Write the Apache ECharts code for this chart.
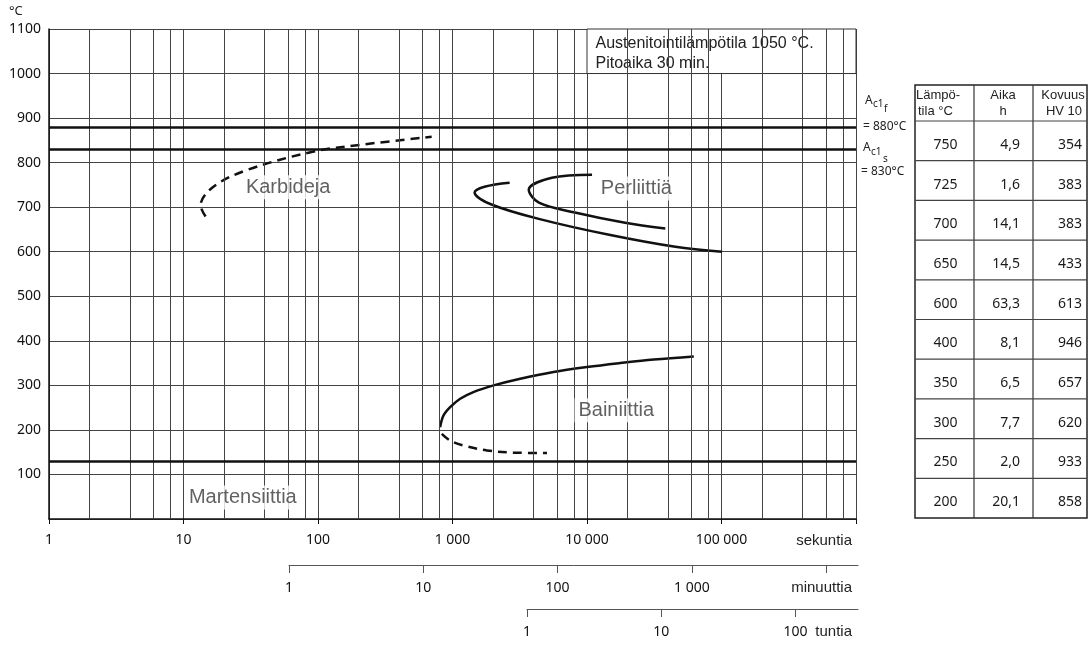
<!DOCTYPE html>
<html>
<head>
<meta charset="utf-8">
<script src="https://cdn.jsdelivr.net/npm/echarts@6/dist/echarts.min.js"></script>
<style>
  html, body { margin: 0; padding: 0; background: #fff; }
  #chart { width: 1088px; height: 645px; }
</style>
</head>
<body>
<div id="chart"></div>
<script>
// ---- data ----
const secondTicks = [1, 10, 100, 1000, 10000, 100000, 1000000];
const secondLabels = ['1', '10', '100', '1 000', '10 000', '100 000', ''];
const secondMinorGrid = [2, 4, 6, 8, 20, 40, 60, 80, 200, 400, 600, 800,
  2000, 4000, 6000, 8000, 20000, 40000, 60000, 80000,
  200000, 400000, 600000, 800000];
const minuteTicks = [1, 10, 100, 1000, 10000];
const minuteLabels = ['1', '10', '100', '1 000', ''];
const hourTicks = [1, 10, 100];
const hourLabels = ['1', '10', '100'];

const phaseLines = [880, 830, 130]; // Ac1f, Ac1s, Ms

// [time s, temperature °C]
const karbidejaCurve = [[14.6, 679], [13.4, 704], [16.7, 746], [30, 784], [93, 825], [220, 841], [700, 858]];
const perliittiOuter = [[2660, 755], [1730, 746], [1460, 733], [1950, 706], [4610, 672], [14600, 638], [45400, 611], [101000, 600]];
const perliittiInner = [[10900, 773], [5480, 766], [3690, 739], [4390, 710], [8130, 688], [19200, 665], [38200, 652]];
const bainiittiSolid = [[62200, 365], [31300, 358], [17700, 350], [10000, 341], [5640, 330], [3190, 315],
  [2020, 300], [1430, 285], [1140, 270], [960, 251], [856, 232], [809, 206]];
const bainiittiDashed = [[832, 191], [960, 176], [1205, 165], [1800, 154], [2840, 149], [5040, 148]];

const phaseNames = ['Karbideja', 'Perliittiä', 'Bainiittia', 'Martensiittia'];
const phaseNameAt = [[60, 745], [23300, 742], [16500, 244], [27.6, 48]];

const tableTemps = [750, 725, 700, 650, 600, 400, 350, 300, 250, 200];
const tableHours = ['4,9', '1,6', '14,1', '14,5', '63,3', '8,1', '6,5', '7,7', '2,0', '20,1'];
const tableHardness = [354, 383, 383, 433, 613, 946, 657, 620, 933, 858];

// ---- styles ----
const ink = '#111';
const gridColor = '#444';
const numFont = { fontFamily: 'Noto Sans', fontSize: 14, color: '#111' };
const sansFont = 'Liberation Sans, Arial, sans-serif';

let myChart = echarts.init(document.getElementById('chart'));

function curve(data, dashed) {
  return {
    type: 'line',
    xAxisIndex: 0, yAxisIndex: 0,
    data: data,
    smooth: 0.35,
    showSymbol: false,
    symbol: 'none',
    z: 4,
    silent: true,
    lineStyle: { color: ink, width: 2.5, type: dashed ? [9, 6] : 'solid' }
  };
}

// table graphics
const tbl = { left: 915, right: 1087, top: 85, head: 121, bottom: 518, c1: 974, c2: 1033 };
const rowH = (tbl.bottom - tbl.head) / tableTemps.length;
const tableGraphic = [];
tableGraphic.push({ type: 'rect', shape: { x: tbl.left, y: tbl.top, width: tbl.right - tbl.left, height: tbl.bottom - tbl.top }, style: { fill: 'none', stroke: '#222', lineWidth: 1.5 } });
[tbl.c1, tbl.c2].forEach(x => tableGraphic.push({ type: 'line', shape: { x1: x, y1: tbl.top, x2: x, y2: tbl.bottom }, style: { stroke: '#333', lineWidth: 1.2 } }));
for (let i = 0; i < tableTemps.length; i++) {
  const yLine = tbl.head + i * rowH;
  tableGraphic.push({ type: 'line', shape: { x1: tbl.left, y1: yLine, x2: tbl.right, y2: yLine }, style: { stroke: '#444', lineWidth: 1.2 } });
  const yc = yLine + rowH / 2 + 4;
  const f = '14px Noto Sans';
  tableGraphic.push({ type: 'text', x: (tbl.left + tbl.c1) / 2 + 1, y: yc, style: { text: String(tableTemps[i]), font: f, fill: '#1a1a1a', align: 'center', verticalAlign: 'middle' } });
  tableGraphic.push({ type: 'text', x: 1020, y: yc, style: { text: tableHours[i], font: f, fill: '#1a1a1a', align: 'right', verticalAlign: 'middle' } });
  tableGraphic.push({ type: 'text', x: 1082, y: yc, style: { text: String(tableHardness[i]), font: f, fill: '#1a1a1a', align: 'right', verticalAlign: 'middle' } });
}
const headFont = '13px ' + sansFont;
[['Lämpö-', 916, 95, 'left'], ['tila °C', 918, 111, 'left'],
 ['Aika', 1003, 95, 'center'], ['h', 1003, 111, 'center'],
 ['Kovuus', 1063, 95, 'center'], ['HV 10', 1064, 111, 'center']].forEach(h => {
  tableGraphic.push({ type: 'text', x: h[1], y: h[2], style: { text: h[0], font: headFont, fill: '#222', align: h[3], verticalAlign: 'middle' } });
});

function txt(text, x, y, font, align) {
  return { type: 'text', x: x, y: y, style: { text: text, font: font, fill: '#222', align: align || 'left', verticalAlign: 'middle' } };
}

let option = {
  animation: false,
  backgroundColor: '#fff',
  grid: [
    { left: 49, top: 29, width: 807, height: 490, outerBoundsMode: 'none' },
    { left: 289, top: 564, width: 569, height: 1, outerBoundsMode: 'none' },
    { left: 527, top: 608, width: 331, height: 1, outerBoundsMode: 'none' }
  ],
  xAxis: [
    {
      type: 'log', logBase: 10, min: 1, max: 1000000, gridIndex: 0, position: 'bottom',
      axisLine: { show: true, onZero: false, lineStyle: { color: ink, width: 1.5 } },
      axisTick: { show: true, length: 5, customValues: secondTicks, lineStyle: { color: ink } },
      axisLabel: {
        customValues: secondTicks.slice(0, 6), margin: 14, ...numFont,
        formatter: v => secondLabels[Math.round(Math.log10(v))]
      },
      splitLine: { show: true, lineStyle: { color: gridColor, width: 1 } }
    },
    {
      type: 'log', logBase: 10, min: 1, max: 17260, gridIndex: 1, position: 'bottom',
      axisLine: { show: true, onZero: false, lineStyle: { color: '#555', width: 1 } },
      axisTick: { show: true, length: 8, customValues: minuteTicks, lineStyle: { color: '#555' } },
      axisLabel: {
        customValues: minuteTicks.slice(0, 4), margin: 16, ...numFont,
        formatter: v => minuteLabels[Math.round(Math.log10(v))]
      },
      splitLine: { show: false }
    },
    {
      type: 'log', logBase: 10, min: 1, max: 291.6, gridIndex: 2, position: 'bottom',
      axisLine: { show: true, onZero: false, lineStyle: { color: '#555', width: 1 } },
      axisTick: { show: true, length: 8, customValues: hourTicks, lineStyle: { color: '#555' } },
      axisLabel: {
        customValues: hourTicks, margin: 16, ...numFont,
        formatter: v => hourLabels[Math.round(Math.log10(v))]
      },
      splitLine: { show: false }
    }
  ],
  yAxis: [
    {
      type: 'value', min: 0, max: 1100, interval: 100, gridIndex: 0,
      axisLine: { show: true, lineStyle: { color: ink, width: 1.5 } },
      axisTick: { show: false },
      axisLabel: { margin: 8, ...numFont, formatter: v => (v === 0 ? '' : String(v)) },
      splitLine: { show: true, lineStyle: { color: gridColor, width: 1 } }
    },
    { type: 'value', gridIndex: 1, show: false },
    { type: 'value', gridIndex: 2, show: false }
  ],
  series: [
    {
      // extra log grid lines (2, 4, 6, 8 per decade)
      type: 'line', xAxisIndex: 0, yAxisIndex: 0, data: [], z: 1, silent: true,
      markLine: {
        silent: true, symbol: ['none', 'none'], label: { show: false },
        lineStyle: { color: gridColor, width: 1, type: 'solid' },
        emphasis: { disabled: true },
        data: secondMinorGrid.map(v => ({ xAxis: v }))
      }
    },
    {
      // Ac1f, Ac1s and Ms lines
      type: 'line', xAxisIndex: 0, yAxisIndex: 0, data: [], z: 2, silent: true,
      markLine: {
        silent: true, symbol: ['none', 'none'], label: { show: false },
        lineStyle: { color: ink, width: 2.5, type: 'solid' },
        emphasis: { disabled: true },
        data: phaseLines.map(v => ({ yAxis: v }))
      }
    },
    {
      // annotation box
      type: 'line', xAxisIndex: 0, yAxisIndex: 0, data: [], z: 3, silent: true,
      markArea: {
        silent: true,
        itemStyle: { color: '#fff', borderColor: '#333', borderWidth: 1 },
        label: {
          show: true, position: [9, 5], color: '#222', fontFamily: sansFont,
          fontSize: 16, lineHeight: 20,
          formatter: 'Austenitointilämpötila 1050 °C.\nPitoaika 30 min.'
        },
        emphasis: { disabled: true },
        data: [[{ xAxis: 10000, yAxis: 1000 }, { xAxis: 1000000, yAxis: 1100 }]]
      }
    },
    curve(karbidejaCurve, true),
    curve(perliittiOuter, false),
    curve(perliittiInner, false),
    curve(bainiittiSolid, false),
    curve(bainiittiDashed, true),
    {
      type: 'scatter', xAxisIndex: 0, yAxisIndex: 0, z: 5, silent: true,
      symbolSize: 1, itemStyle: { color: 'rgba(0,0,0,0)' },
      data: phaseNames.map((n, i) => ({ name: n, value: phaseNameAt[i] })),
      label: {
        show: true, position: 'inside', formatter: '{b}',
        fontFamily: sansFont, fontSize: 20, color: '#3a3a3a',
        backgroundColor: '#fff', padding: [2, 4]
      }
    }
  ],
  graphic: [
    txt('°C', 9, 11, '13px Noto Sans'),
    txt('sekuntia', 852, 541, '15px ' + sansFont, 'right'),
    txt('minuuttia', 852, 588, '15px ' + sansFont, 'right'),
    txt('tuntia', 852, 632, '15px ' + sansFont, 'right'),
    txt('A', 865, 101, '12px Noto Sans'),
    txt('c1', 873, 104, '10px Noto Sans'),
    txt('f', 884, 109, '10px Noto Sans'),
    txt('= 880°C', 863, 127, '12px Noto Sans'),
    txt('A', 863, 148, '12px Noto Sans'),
    txt('c1', 871, 152, '10px Noto Sans'),
    txt('s', 883, 159, '10px Noto Sans'),
    txt('= 830°C', 861, 172, '12px Noto Sans')
  ].concat(tableGraphic)
};

myChart.setOption(option);
</script>
</body>
</html>
